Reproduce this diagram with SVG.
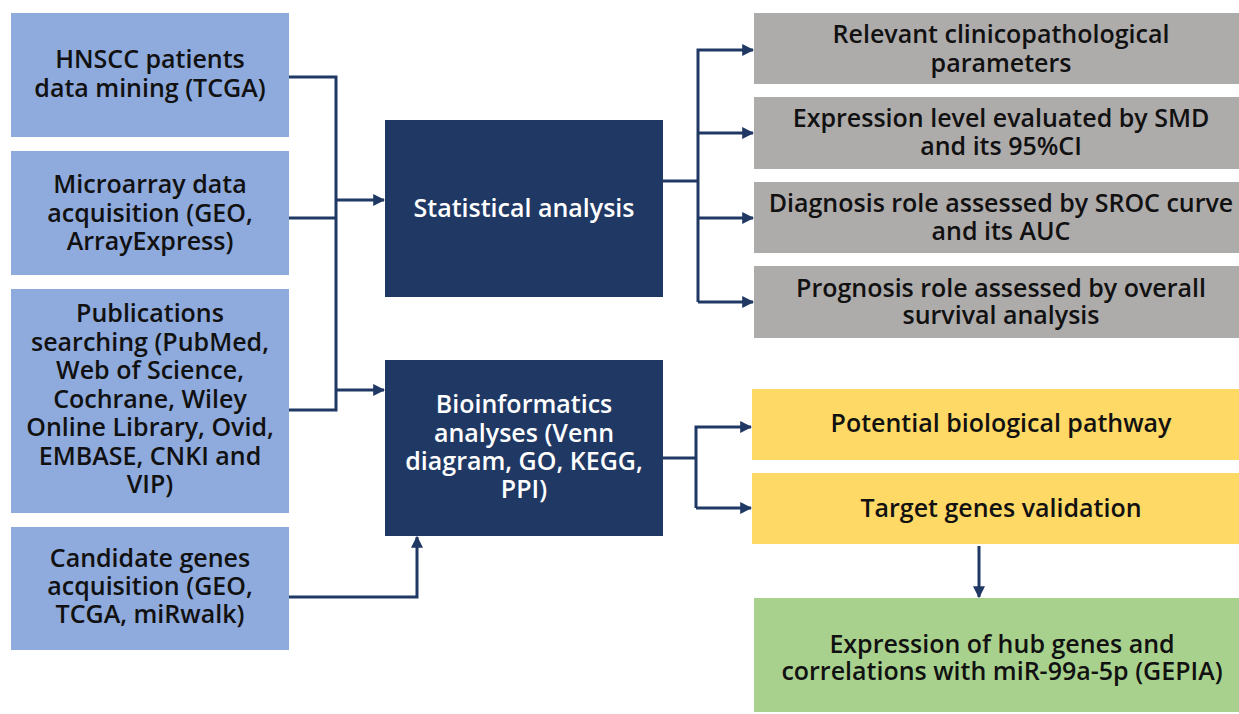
<svg xmlns="http://www.w3.org/2000/svg" width="1239" height="714" viewBox="0 0 1239 714">
  <style>
    text { font-family: "Open Sans", "Noto Sans", "Liberation Sans", sans-serif; font-size: 25px; font-weight: 600; text-anchor: middle; fill: #111111; }
    .src { fill: #8faadc; }
    .core { fill: #203864; }
    .core-t { fill: #ffffff; }
    .out { fill: #aeabab; }
    .path { fill: #ffd966; }
    .hub { fill: #a9d18e; }
    .wire { fill: none; stroke: #203864; stroke-width: 3; }
  </style>
  <defs>
    <marker id="arrow" viewBox="0 0 10 10" refX="9" refY="5" markerWidth="4" markerHeight="4" markerUnits="strokeWidth" orient="auto">
      <path d="M0,0 L10,5 L0,10 z" fill="#203864"/>
    </marker>
  </defs>

  <rect width="1239" height="714" fill="#ffffff"/>

  <!-- data sources -->
  <g id="src-tcga">
    <rect class="src" x="11" y="13" width="278" height="124"/>
    <text x="150" y="68">HNSCC patients</text>
    <text x="150" y="97">data mining (TCGA)</text>
  </g>
  <g id="src-microarray">
    <rect class="src" x="11" y="151" width="278" height="124"/>
    <text x="150" y="193">Microarray data</text>
    <text x="150" y="222">acquisition (GEO,</text>
    <text x="150" y="250">ArrayExpress)</text>
  </g>
  <g id="src-publications">
    <rect class="src" x="11" y="289" width="278" height="224"/>
    <text x="150" y="322">Publications</text>
    <text x="150" y="351">searching (PubMed,</text>
    <text x="150" y="379">Web of Science,</text>
    <text x="150" y="408">Cochrane, Wiley</text>
    <text x="150" y="436">Online Library, Ovid,</text>
    <text x="150" y="465">EMBASE, CNKI and</text>
    <text x="150" y="493">VIP)</text>
  </g>
  <g id="src-candidates">
    <rect class="src" x="11" y="527" width="278" height="123"/>
    <text x="150" y="567">Candidate genes</text>
    <text x="150" y="595">acquisition (GEO,</text>
    <text x="150" y="623">TCGA, miRwalk)</text>
  </g>

  <!-- analyses -->
  <g id="statistical">
    <rect class="core" x="385" y="120" width="278" height="177"/>
    <text class="core-t" x="524" y="217">Statistical analysis</text>
  </g>
  <g id="bioinformatics">
    <rect class="core" x="385" y="360" width="278" height="176"/>
    <text class="core-t" x="524" y="413">Bioinformatics</text>
    <text class="core-t" x="524" y="442">analyses (Venn</text>
    <text class="core-t" x="524" y="470">diagram, GO, KEGG,</text>
    <text class="core-t" x="524" y="498">PPI)</text>
  </g>

  <!-- statistical outcomes -->
  <g id="clinico">
    <rect class="out" x="754" y="13" width="485" height="71"/>
    <text x="1001" y="43">Relevant clinicopathological</text>
    <text x="1001" y="72">parameters</text>
  </g>
  <g id="smd">
    <rect class="out" x="754" y="97" width="485" height="72"/>
    <text x="1001" y="127">Expression level evaluated by SMD</text>
    <text x="1001" y="155">and its 95%CI</text>
  </g>
  <g id="sroc">
    <rect class="out" x="754" y="182" width="485" height="71"/>
    <text x="1001" y="212">Diagnosis role assessed by SROC curve</text>
    <text x="1001" y="240">and its AUC</text>
  </g>
  <g id="survival">
    <rect class="out" x="754" y="266" width="485" height="72"/>
    <text x="1001" y="297">Prognosis role assessed by overall</text>
    <text x="1001" y="324">survival analysis</text>
  </g>

  <!-- bioinformatics outcomes -->
  <g id="pathway">
    <rect class="path" x="752" y="389" width="487" height="71"/>
    <text x="1001" y="432">Potential biological pathway</text>
  </g>
  <g id="targets">
    <rect class="path" x="752" y="473" width="487" height="71"/>
    <text x="1001" y="517">Target genes validation</text>
  </g>
  <g id="hub-genes">
    <rect class="hub" x="754" y="598" width="485" height="114"/>
    <text x="1002" y="653">Expression of hub genes and</text>
    <text x="1002" y="680">correlations with miR-99a-5p (GEPIA)</text>
  </g>

  <!-- connectors -->
  <g id="connectors">
    <path class="wire" d="M289,77 H336 V410 H289"/>
    <path class="wire" d="M289,218 H336"/>
    <path class="wire" d="M336,200 H384" marker-end="url(#arrow)"/>
    <path class="wire" d="M336,390 H384" marker-end="url(#arrow)"/>
    <path class="wire" d="M289,597 H417 V537" marker-end="url(#arrow)"/>

    <path class="wire" d="M663,181 H698"/>
    <path class="wire" d="M698,133 H753" marker-end="url(#arrow)"/>
    <path class="wire" d="M698,218 H753" marker-end="url(#arrow)"/>
    <path class="wire" d="M698,302 V50 H753" marker-end="url(#arrow)"/>
    <path class="wire" d="M698,302 H753" marker-end="url(#arrow)"/>

    <path class="wire" d="M663,458 H696"/>
    <path class="wire" d="M696,508 V427 H751" marker-end="url(#arrow)"/>
    <path class="wire" d="M696,508 H751" marker-end="url(#arrow)"/>

    <path class="wire" d="M979,546 V597" marker-end="url(#arrow)"/>
  </g>
</svg>
